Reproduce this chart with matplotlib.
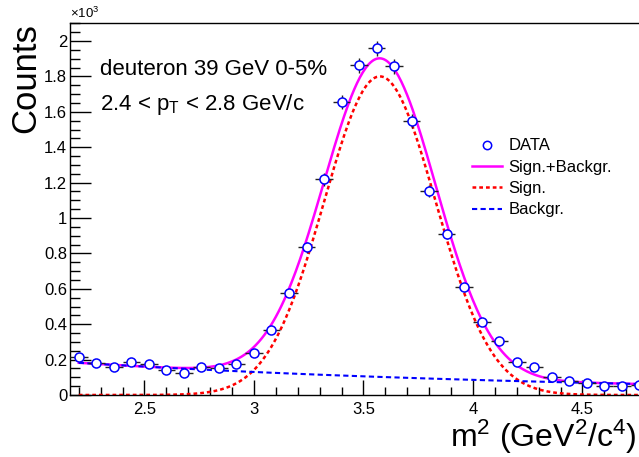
import numpy as np
import matplotlib
matplotlib.use("Agg")
import matplotlib.pyplot as plt
from matplotlib.lines import Line2D
from matplotlib.ticker import MultipleLocator, FuncFormatter

plt.rcParams["font.family"] = ["Liberation Sans", "DejaVu Sans"]
plt.rcParams["mathtext.fontset"] = "custom"
plt.rcParams["mathtext.rm"] = "Liberation Sans"
plt.rcParams["mathtext.it"] = "Liberation Sans"

# m^2 bin centres (GeV^2/c^4) and counts (x10^3)
m2 = [2.20, 2.28, 2.36, 2.44, 2.52, 2.60, 2.68, 2.76, 2.84, 2.92, 3.00,
      3.08, 3.16, 3.24, 3.32, 3.40, 3.48, 3.56, 3.64, 3.72, 3.80, 3.88,
      3.96, 4.04, 4.12, 4.20, 4.28, 4.36, 4.44, 4.52, 4.60, 4.68, 4.76]
counts = [0.215, 0.183, 0.158, 0.184, 0.175, 0.141, 0.122, 0.160, 0.154,
          0.175, 0.239, 0.367, 0.576, 0.834, 1.218, 1.656, 1.863, 1.958,
          1.858, 1.549, 1.152, 0.909, 0.608, 0.410, 0.307, 0.188, 0.156,
          0.100, 0.081, 0.070, 0.051, 0.053, 0.056]
count_err = [0.015, 0.014, 0.013, 0.014, 0.013, 0.012, 0.011, 0.013, 0.012,
             0.013, 0.016, 0.019, 0.024, 0.029, 0.035, 0.041, 0.043, 0.044,
             0.043, 0.039, 0.034, 0.030, 0.025, 0.020, 0.018, 0.014, 0.013,
             0.010, 0.009, 0.008, 0.007, 0.007, 0.008]
bin_half = 0.04

# fit results: gaussian signal + exponential background
sig_amp, sig_mean, sig_sigma = 1.80, 3.575, 0.255
bkg_amp, bkg_x0, bkg_slope = 0.182, 2.2, 0.42
fit_range = (2.2, 4.8)

x = np.linspace(fit_range[0], fit_range[1], 400)
sig = sig_amp * np.exp(-0.5 * ((x - sig_mean) / sig_sigma) ** 2)
bkg = bkg_amp * np.exp(-bkg_slope * (x - bkg_x0))

fig = plt.figure(figsize=(6.39, 4.57), dpi=100)
ax = fig.add_axes([70 / 639, 62 / 457, 578.2 / 639, 371.7 / 457])

ax.errorbar(m2, counts, xerr=bin_half, yerr=count_err, fmt="o", ms=6.5,
            mfc="white", mec="blue", mew=1.1, ecolor="#222222", elinewidth=1,
            capsize=0, zorder=3)
ax.plot(x, sig + bkg, color="#ff00ff", lw=1.8, zorder=2)
ax.plot(x, sig, color="red", lw=1.8, ls=(0, (1.5, 1.2)), zorder=2)
ax.plot(x, bkg, color="blue", lw=1.5, ls=(0, (2.5, 1.6)), zorder=2)

ax.set_xlim(2.16, 4.8)
ax.set_ylim(0, 2.1)

ax.xaxis.set_major_locator(MultipleLocator(0.5))
ax.xaxis.set_minor_locator(MultipleLocator(0.1))
ax.yaxis.set_major_locator(MultipleLocator(0.2))
ax.yaxis.set_minor_locator(MultipleLocator(0.05))
fmt = FuncFormatter(lambda v, p: f"{v:g}")
ax.xaxis.set_major_formatter(fmt)
ax.yaxis.set_major_formatter(fmt)
ax.tick_params(axis="x", which="both", direction="in", top=False, labelsize=12, pad=5)
ax.tick_params(axis="y", which="both", direction="in", right=False, labelsize=12, pad=2)
ax.tick_params(axis="x", which="major", length=11, width=1)
ax.tick_params(axis="x", which="minor", length=5.5, width=1)
ax.tick_params(axis="y", which="major", length=15, width=1)
ax.tick_params(axis="y", which="minor", length=7, width=1)
for s in ax.spines.values():
    s.set_linewidth(1)

ax.text(0, 1.005, r"$\times10^{3}$", transform=ax.transAxes, fontsize=9.5,
        ha="left", va="bottom")
ax.set_ylabel("Counts", fontsize=25, loc="top", labelpad=1.5)
fig.text(637 / 639, 10 / 457, r"m$^{2}$ (GeV$^{2}$/c$^{4}$)", fontsize=23,
         ha="right", va="baseline")

ax.text(0.052, 0.875, "deuteron 39 GeV 0-5%", transform=ax.transAxes, fontsize=16,
        va="center")
ax.text(0.052, 0.781, r"2.4 < p$_{\mathrm{T}}$ < 2.8 GeV/c", transform=ax.transAxes,
        fontsize=16, va="center")

handles = [
    Line2D([], [], ls="none", marker="o", ms=6, mfc="white", mec="blue", mew=1.1),
    Line2D([], [], color="#ff00ff", lw=1.8),
    Line2D([], [], color="red", lw=1.8, ls=(0, (1.5, 1.2))),
    Line2D([], [], color="blue", lw=1.5, ls=(0, (2.5, 1.6))),
]
labels = ["DATA", "Sign.+Backgr.", "Sign.", "Backgr."]
ax.legend(handles, labels, loc="upper left", bbox_to_anchor=(0.6947, 0.6903),
          frameon=False, fontsize=12, handlelength=1.8, handletextpad=0.42,
          labelspacing=0.38, borderaxespad=0, borderpad=0)

fig.savefig("out.png", dpi=100)
